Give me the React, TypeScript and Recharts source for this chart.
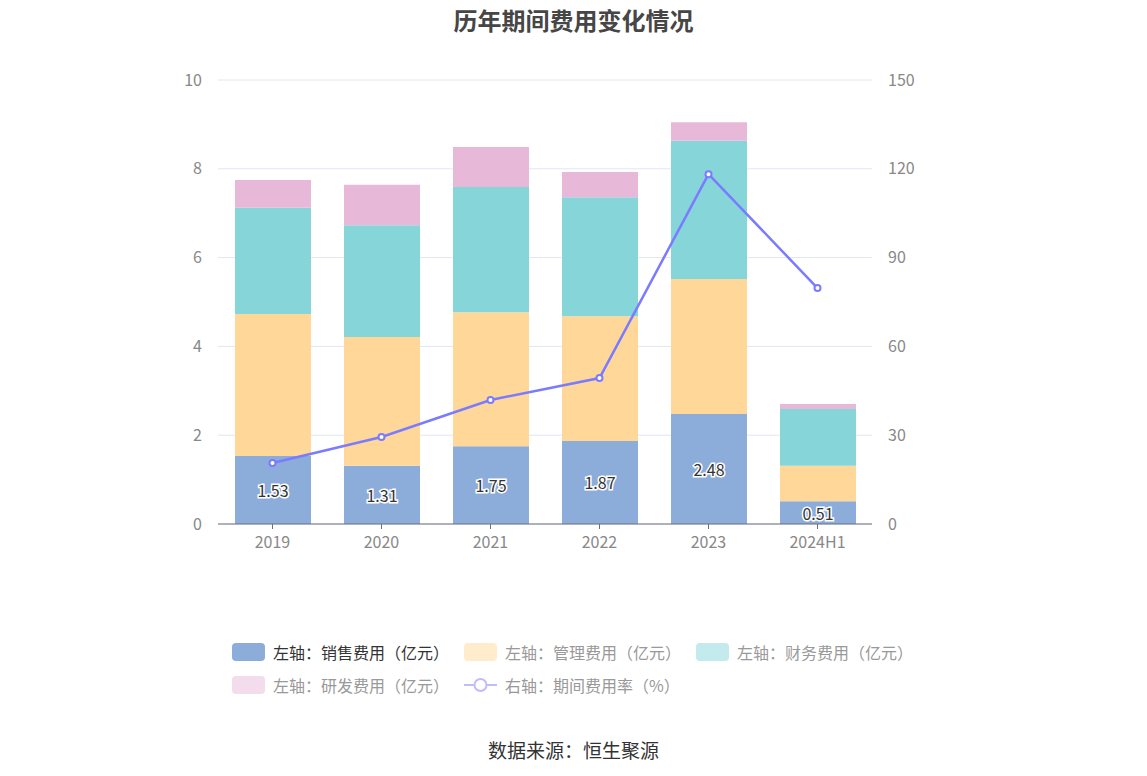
import React from 'react'
import {
  ComposedChart, Bar, Line, XAxis, YAxis, CartesianGrid, LabelList
} from 'recharts'

const years = ['2019', '2020', '2021', '2022', '2023', '2024H1']
const sales = [1.53, 1.31, 1.75, 1.87, 2.48, 0.51]
const admin = [3.2, 2.9, 3.02, 2.81, 3.04, 0.8]
const finance = [2.39, 2.52, 2.82, 2.68, 3.11, 1.28]
const rd = [0.63, 0.91, 0.9, 0.57, 0.42, 0.11]
const rate = [20.6, 29.4, 41.9, 49.3, 118.2, 79.7]

const leftTicks = [0, 2, 4, 6, 8, 10]
const rightTicks = [0, 30, 60, 90, 120, 150]

const FONT = '"Noto Sans CJK SC", "Noto Sans", sans-serif'

const data = years.map((y, i) => ({
  year: y,
  sales: sales[i],
  admin: admin[i],
  finance: finance[i],
  rd: rd[i],
  rate: rate[i],
}))

const legendRows = [
  [
    { label: '左轴：销售费用（亿元）', color: '#8CACD9', text: '#333', kind: 'box' },
    { label: '左轴：管理费用（亿元）', color: '#FFECCC', text: '#999', kind: 'box' },
    { label: '左轴：财务费用（亿元）', color: '#C3EAEC', text: '#999', kind: 'box' },
  ],
  [
    { label: '左轴：研发费用（亿元）', color: '#F3DCEC', text: '#999', kind: 'box' },
    { label: '右轴：期间费用率（%）', color: '#BDBDFF', text: '#999', kind: 'line' },
  ],
]

const renderLabel = (props: any) => {
  const { x, y, width, height, value } = props
  return (
    <text
      x={x + width / 2}
      y={y + height / 2}
      textAnchor="middle"
      dominantBaseline="central"
      fontSize={16}
      fontFamily={FONT}
      fill="#333"
      stroke="#fff"
      strokeWidth={3}
      paintOrder="stroke"
    >
      {Number(value).toFixed(2)}
    </text>
  )
}

export default function App() {
  return (
    <div style={{ position: 'absolute', left: 0, top: 0, width: 1147, height: 776, background: '#fff', fontFamily: FONT }}>
      <div style={{ position: 'absolute', top: 2, width: '100%', textAlign: 'center', fontSize: 24, fontWeight: 700, color: '#464646' }}>
        历年期间费用变化情况
      </div>

      <ComposedChart
        width={1147}
        height={776}
        data={data}
        margin={{ top: 80, right: 235, bottom: 222, left: 178 }}
        barSize={76}
      >
        <CartesianGrid vertical={false} stroke="#E0E6F1" yAxisId="left" />
        <XAxis
          dataKey="year"
          height={30}
          tick={{ fill: '#888', fontSize: 16, fontFamily: FONT }}
          tickLine={{ stroke: '#6E7079' }}
          axisLine={{ stroke: '#6E7079' }}
          tickSize={5}
          tickMargin={8}
        />
        <YAxis
          yAxisId="left"
          domain={[0, 10]}
          ticks={leftTicks}
          width={40}
          axisLine={false}
          tickLine={false}
          tickMargin={10}
          tick={{ fill: '#888', fontSize: 16, fontFamily: FONT }}
        />
        <YAxis
          yAxisId="right"
          orientation="right"
          domain={[0, 150]}
          ticks={rightTicks}
          width={40}
          axisLine={false}
          tickLine={false}
          tickMargin={10}
          tick={{ fill: '#888', fontSize: 16, fontFamily: FONT, textAnchor: 'start' }}
        />
        <Bar yAxisId="left" dataKey="sales" stackId="a" fill="#8CACD9" isAnimationActive={false}>
          <LabelList dataKey="sales" content={renderLabel} />
        </Bar>
        <Bar yAxisId="left" dataKey="admin" stackId="a" fill="#FFD899" isAnimationActive={false} />
        <Bar yAxisId="left" dataKey="finance" stackId="a" fill="#86D5D9" isAnimationActive={false} />
        <Bar yAxisId="left" dataKey="rd" stackId="a" fill="#E7B8D8" isAnimationActive={false} />
        <Line
          yAxisId="right"
          dataKey="rate"
          stroke="#7B7BFF"
          strokeWidth={2.5}
          dot={{ r: 3, fill: '#fff', stroke: '#7B7BFF', strokeWidth: 2 }}
          isAnimationActive={false}
        />
      </ComposedChart>

      {legendRows.map((row, ri) => (
        <div key={ri} style={{ position: 'absolute', left: 232, top: 640 + ri * 33, display: 'flex', fontSize: 16 }}>
          {row.map(item => (
            <div key={item.label} style={{ display: 'flex', alignItems: 'center', width: 232 }}>
              {item.kind === 'box' ? (
                <div style={{ width: 33, height: 18, borderRadius: 4, background: item.color }} />
              ) : (
                <svg width={33} height={18}>
                  <line x1={0} y1={9} x2={33} y2={9} stroke={item.color} strokeWidth={2} />
                  <circle cx={16.5} cy={9} r={6} fill="#fff" stroke={item.color} strokeWidth={2} />
                </svg>
              )}
              <span style={{ marginLeft: 8, color: item.text, whiteSpace: 'nowrap' }}>{item.label}</span>
            </div>
          ))}
        </div>
      ))}

      <div style={{ position: 'absolute', top: 736, width: '100%', textAlign: 'center', fontSize: 19, color: '#333' }}>
        数据来源：恒生聚源
      </div>
    </div>
  )
}
